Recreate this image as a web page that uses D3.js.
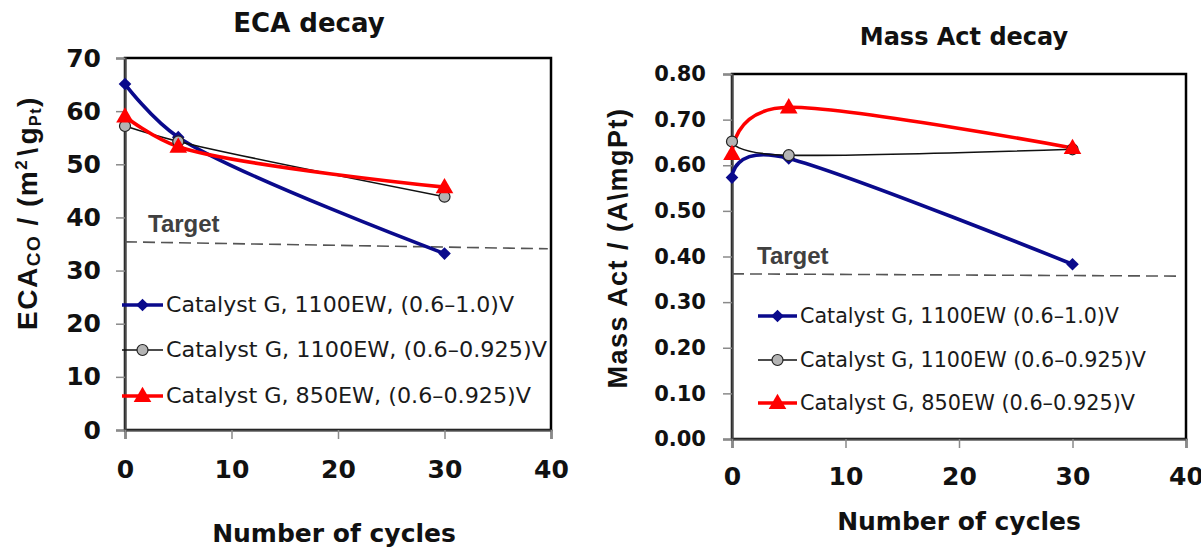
<!DOCTYPE html>
<html>
<head>
<meta charset="utf-8">
<script src="https://cdn.jsdelivr.net/npm/d3@7"></script>
<style>
  html, body { margin: 0; padding: 0; background: #fff; }
  svg { display: block; }
</style>
</head>
<body>
<svg id="chart" width="1201" height="548"></svg>
<script>
// ---------------- DATA ----------------
const cycles = [0, 5, 30];
const xTicks = [0, 10, 20, 30, 40];

const seriesNames = ["Catalyst G, 1100EW, (0.6–1.0)V", "Catalyst G, 1100EW, (0.6–0.925)V", "Catalyst G, 850EW, (0.6–0.925)V"];
const seriesNamesMass = ["Catalyst G, 1100EW (0.6–1.0)V", "Catalyst G, 1100EW (0.6–0.925)V", "Catalyst G, 850EW (0.6–0.925)V"];

const ecaBlue = [65.1, 55.1, 33.2];
const ecaGray = [57.2, 54.3, 43.9];
const ecaRed  = [59.0, 53.3, 45.7];
const ecaTicks = [0, 10, 20, 30, 40, 50, 60, 70];
const ecaTarget = [[0, 35.4], [39.7, 34.1]];

const massBlue = [0.573, 0.615, 0.383];
const massGray = [0.652, 0.622, 0.635];
const massRed  = [0.625, 0.727, 0.638];
const massTicks = [0.0, 0.1, 0.2, 0.3, 0.4, 0.5, 0.6, 0.7, 0.8];
const massTarget = [[0, 0.362], [39.6, 0.357]];

// ---------------- STYLE ----------------
const BLUE = "#0a0a8c", RED = "#ff0000", BLACK = "#111";
const svg = d3.select("#chart");
svg.append("rect").attr("width", 1201).attr("height", 548).attr("fill", "#fff");

const symTri = d3.symbol().type(d3.symbolTriangle).size(135);

function drawMarker(g, type, x, y) {
  if (type === "diamond") {
    g.append("path").attr("d", d3.symbol().type(d3.symbolSquare).size(80)())
      .attr("transform", `translate(${x},${y}) rotate(45)`).attr("fill", BLUE);
  } else if (type === "circle") {
    g.append("circle").attr("cx", x).attr("cy", y).attr("r", 5.5)
      .attr("fill", "#b4b4b4").attr("stroke", "#222").attr("stroke-width", 1.2);
  } else {
    g.append("path").attr("d", symTri()).attr("transform", `translate(${x},${y + 1})`).attr("fill", RED);
  }
}

function panel(cfg) {
  const x = d3.scaleLinear().domain([0, 40]).range([cfg.left, cfg.right]);
  const y = d3.scaleLinear().domain(cfg.yDomain).range([cfg.bottom, cfg.top]);
  const g = svg.append("g");

  // plot border
  g.append("rect").attr("x", cfg.left).attr("y", cfg.top)
    .attr("width", cfg.right - cfg.left).attr("height", cfg.bottom - cfg.top)
    .attr("fill", "none").attr("stroke", "#000").attr("stroke-width", 2.5);

  // axes
  const ya = d3.axisLeft(y).tickValues(cfg.yTicks).tickSize(9).tickPadding(cfg.yPad)
    .tickFormat(cfg.yFmt);
  const yg = g.append("g").attr("transform", `translate(${cfg.left},0)`).call(ya);
  const xa = d3.axisBottom(x).tickValues(xTicks).tickSize(9).tickPadding(cfg.xPad);
  const xg = g.append("g").attr("transform", `translate(0,${cfg.bottom})`).call(xa);
  [yg, xg].forEach(a => {
    a.select(".domain").attr("stroke", "#4a4a4a").attr("stroke-width", 2.2);
    a.selectAll(".tick line").attr("stroke", "#8a8a8a").attr("stroke-width", 1.5);
    a.selectAll(".tick text").attr("fill", "#111")
      .style("font-family", "'DejaVu Sans', sans-serif").style("font-weight", "bold");
  });
  yg.selectAll(".tick text").style("font-size", cfg.yFont + "px");
  xg.selectAll(".tick text").style("font-size", "25px");

  // target line
  g.append("line")
    .attr("x1", x(cfg.target[0][0])).attr("y1", y(cfg.target[0][1]))
    .attr("x2", x(cfg.target[1][0])).attr("y2", y(cfg.target[1][1]))
    .attr("stroke", "#555").attr("stroke-width", 1.6).attr("stroke-dasharray", "12,6");
  g.append("text").attr("x", cfg.targetLabel[0]).attr("y", cfg.targetLabel[1])
    .text("Target").attr("fill", "#404040")
    .style("font-family", "'Liberation Sans', Arial, sans-serif").style("font-weight", "bold")
    .style("font-size", "24px");

  // series
  const line = d3.line().x((d, i) => x(cycles[i])).y(d => y(d)).curve(cfg.curve);
  const series = [
    { v: cfg.blue, c: BLUE, w: 3.6, m: "diamond" },
    { v: cfg.gray, c: BLACK, w: 1.6, m: "circle" },
    { v: cfg.red,  c: RED,  w: 3.6, m: "tri" }
  ];
  series.forEach(s => {
    g.append("path").attr("d", line(s.v)).attr("fill", "none")
      .attr("stroke", s.c).attr("stroke-width", s.w);
  });
  series.forEach(s => {
    s.v.forEach((d, i) => drawMarker(g, s.m, x(cycles[i]), y(d)));
  });

  // legend
  series.forEach((s, i) => {
    const ly = cfg.legendY[i];
    g.append("line").attr("x1", cfg.legendX[0]).attr("x2", cfg.legendX[1])
      .attr("y1", ly).attr("y2", ly).attr("stroke", s.c).attr("stroke-width", s.w);
    drawMarker(g, s.m, (cfg.legendX[0] + cfg.legendX[1]) / 2, ly);
    g.append("text").attr("x", cfg.legendX[1] + 3).attr("y", ly + 7)
      .text(cfg.names[i]).attr("fill", "#1a1a1a")
      .attr("textLength", cfg.legendW[i]).attr("lengthAdjust", "spacingAndGlyphs")
      .style("font-family", "'DejaVu Sans', sans-serif").style("font-size", "21px");
  });

  // title
  g.append("text").attr("x", cfg.title[1]).attr("y", cfg.title[2]).attr("text-anchor", "middle")
    .text(cfg.title[0]).attr("fill", "#111")
    .style("font-family", "'DejaVu Sans', sans-serif").style("font-weight", "bold")
    .style("font-size", cfg.title[3] + "px");
  // x title
  g.append("text").attr("x", cfg.xTitle[0]).attr("y", cfg.xTitle[1]).attr("text-anchor", "middle")
    .text("Number of cycles").attr("fill", "#111")
    .style("font-family", "'DejaVu Sans', sans-serif").style("font-weight", "bold")
    .style("font-size", "25px");
  return g;
}

panel({
  left: 125, right: 551, top: 58, bottom: 430, curve: d3.curveCatmullRom.alpha(0.5),
  yDomain: [0, 70], yTicks: ecaTicks, yFmt: d3.format("d"), yPad: 15, yFont: 25, xPad: 21,
  blue: ecaBlue, gray: ecaGray, red: ecaRed, target: ecaTarget, targetLabel: [148, 232],
  legendX: [122, 163], legendY: [305, 350, 396], legendW: [348, 381, 365], names: seriesNames,
  title: ["ECA decay", 309, 32, 26], xTitle: [334, 542]
});

panel({
  left: 732, right: 1186, top: 74, bottom: 439, curve: d3.curveCardinal.tension(0),
  yDomain: [0, 0.8], yTicks: massTicks, yFmt: d3.format(".2f"), yPad: 17, yFont: 21, xPad: 19,
  blue: massBlue, gray: massGray, red: massRed, target: massTarget, targetLabel: [757, 264],
  legendX: [758, 797], legendY: [316, 360, 403], legendW: [319, 346, 335], names: seriesNamesMass,
  title: ["Mass Act decay", 964, 45, 24], xTitle: [959, 530]
});

// y axis titles
const yt1 = svg.append("text").attr("transform", "translate(37,213) rotate(-90)")
  .attr("text-anchor", "middle").attr("fill", "#111")
  .style("font-family", "'Liberation Sans', Arial, sans-serif").style("font-weight", "bold")
  .style("font-size", "28px").style("letter-spacing", "1.5px");
yt1.append("tspan").text("ECA");
yt1.append("tspan").text("CO").attr("dy", 3).style("font-size", "19px");
yt1.append("tspan").text(" / (m").attr("dy", -3);
yt1.append("tspan").text("2").attr("dy", -10).style("font-size", "17px");
yt1.append("tspan").text("\\").attr("dy", 10).attr("dx", 3);
yt1.append("tspan").text("g").attr("dx", 2);
yt1.append("tspan").text("Pt").attr("dy", 4).style("font-size", "16px");
yt1.append("tspan").text(")").attr("dy", -4);

svg.append("text").attr("transform", "translate(627,248) rotate(-90)")
  .attr("text-anchor", "middle").attr("fill", "#111")
  .style("font-family", "'Liberation Sans', Arial, sans-serif").style("font-weight", "bold")
  .style("font-size", "27px").style("letter-spacing", "1.5px")
  .text("Mass Act / (A\\mgPt)");
</script>
</body>
</html>
